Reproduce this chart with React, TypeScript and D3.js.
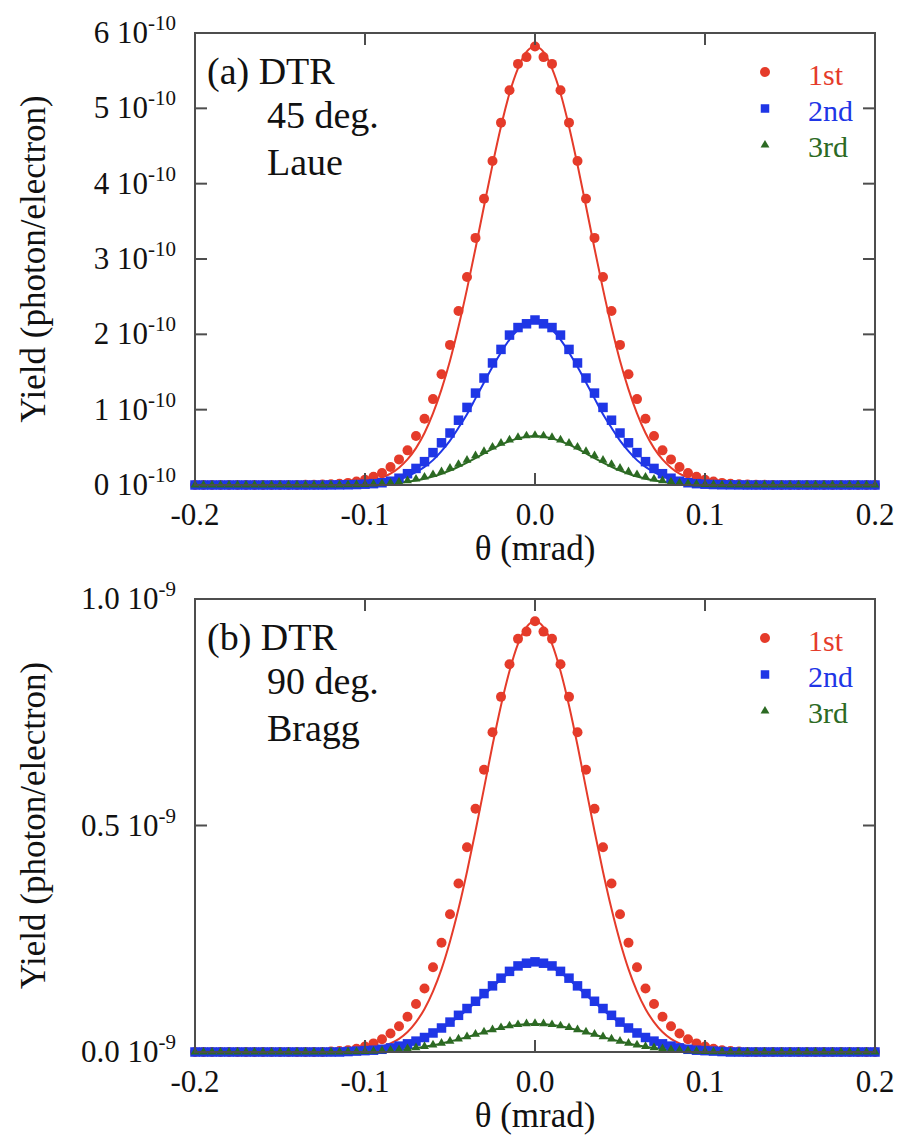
import React from "react";
import * as d3 from "d3";

// Scattering angle grid (mrad)
const THETA = [
  -0.2, -0.195, -0.19, -0.185, -0.18, -0.175, -0.17, -0.165, -0.16, -0.155,
  -0.15, -0.145, -0.14, -0.135, -0.13, -0.125, -0.12, -0.115, -0.11, -0.105,
  -0.1, -0.095, -0.09, -0.085, -0.08, -0.075, -0.07, -0.065, -0.06, -0.055,
  -0.05, -0.045, -0.04, -0.035, -0.03, -0.025, -0.02, -0.015, -0.01, -0.005,
  0,
  0.005, 0.01, 0.015, 0.02, 0.025, 0.03, 0.035, 0.04, 0.045, 0.05,
  0.055, 0.06, 0.065, 0.07, 0.075, 0.08, 0.085, 0.09, 0.095, 0.1,
  0.105, 0.11, 0.115, 0.12, 0.125, 0.13, 0.135, 0.14, 0.145, 0.15,
  0.155, 0.16, 0.165, 0.17, 0.175, 0.18, 0.185, 0.19, 0.195, 0.2,
];

// (a) 45 deg. Laue — yield in units of 1e-10 photon/electron
const LAUE_1ST_PTS = [
  0, 0, 0, 0, 0, 0, 0, 0, 0, 0, 0, 0,
  0.001, 0.002, 0.004, 0.006, 0.01, 0.017, 0.028, 0.045, 0.07, 0.11, 0.16, 0.24, 0.34, 0.46, 0.65, 0.88,
  1.14, 1.47, 1.86, 2.31, 2.76, 3.28, 3.8, 4.3, 4.81, 5.24, 5.59, 5.68,
  5.82,
  5.68, 5.59, 5.24, 4.81, 4.3, 3.8, 3.28, 2.76, 2.31, 1.86, 1.47, 1.14,
  0.88, 0.65, 0.46, 0.34, 0.24, 0.16, 0.11, 0.07, 0.045, 0.028, 0.017, 0.01, 0.006, 0.004, 0.002, 0.001,
  0, 0, 0, 0, 0, 0, 0, 0, 0, 0, 0, 0,
];
const LAUE_1ST_CALC = [
  0, 0, 0, 0, 0, 0, 0, 0, 0, 0, 0, 0, 0, 0,
  0.001, 0.002, 0.004, 0.007, 0.013, 0.022, 0.038, 0.062, 0.098, 0.15, 0.23, 0.34, 0.49,
  0.69, 0.95, 1.27, 1.65, 2.1, 2.6, 3.14, 3.7, 4.25, 4.76, 5.2, 5.53, 5.75,
  5.82,
  5.75, 5.53, 5.2, 4.76, 4.25, 3.7, 3.14, 2.6, 2.1, 1.65, 1.27, 0.95, 0.69,
  0.49, 0.34, 0.23, 0.15, 0.098, 0.062, 0.038, 0.022, 0.013, 0.007, 0.004, 0.002, 0.001,
  0, 0, 0, 0, 0, 0, 0, 0, 0, 0, 0, 0, 0, 0,
];
const LAUE_2ND_PTS = [
  0, 0, 0, 0, 0, 0, 0, 0, 0, 0, 0, 0, 0, 0, 0, 0,
  0.001, 0.002, 0.003, 0.006, 0.011, 0.018, 0.03, 0.05, 0.09, 0.15, 0.22, 0.31,
  0.43, 0.56, 0.69, 0.86, 1.03, 1.22, 1.42, 1.62, 1.8, 1.99, 2.09, 2.14,
  2.19,
  2.14, 2.09, 1.99, 1.8, 1.62, 1.42, 1.22, 1.03, 0.86, 0.69, 0.56, 0.43,
  0.31, 0.22, 0.15, 0.09, 0.05, 0.03, 0.018, 0.011, 0.006, 0.003, 0.002, 0.001,
  0, 0, 0, 0, 0, 0, 0, 0, 0, 0, 0, 0, 0, 0, 0, 0,
];
const LAUE_2ND_CALC = [
  0, 0, 0, 0, 0, 0, 0, 0, 0, 0, 0, 0, 0, 0, 0, 0,
  0.001, 0.002, 0.004, 0.007, 0.012, 0.02, 0.032, 0.051, 0.078, 0.116, 0.17, 0.24,
  0.33, 0.45, 0.59, 0.76, 0.94, 1.15, 1.36, 1.57, 1.76, 1.93, 2.06, 2.14,
  2.17,
  2.14, 2.06, 1.93, 1.76, 1.57, 1.36, 1.15, 0.94, 0.76, 0.59, 0.45, 0.33,
  0.24, 0.17, 0.116, 0.078, 0.051, 0.032, 0.02, 0.012, 0.007, 0.004, 0.002, 0.001,
  0, 0, 0, 0, 0, 0, 0, 0, 0, 0, 0, 0, 0, 0, 0, 0,
];
const LAUE_3RD_PTS = [
  0, 0, 0, 0, 0, 0, 0, 0, 0, 0, 0, 0, 0, 0, 0, 0,
  0.001, 0.002, 0.003, 0.005, 0.009, 0.013, 0.02, 0.029, 0.041, 0.058, 0.079, 0.106,
  0.139, 0.178, 0.224, 0.275, 0.33, 0.389, 0.447, 0.504, 0.555, 0.599, 0.632, 0.653,
  0.66,
  0.653, 0.632, 0.599, 0.555, 0.504, 0.447, 0.389, 0.33, 0.275, 0.224, 0.178, 0.139,
  0.106, 0.079, 0.058, 0.041, 0.029, 0.02, 0.013, 0.009, 0.005, 0.003, 0.002, 0.001,
  0, 0, 0, 0, 0, 0, 0, 0, 0, 0, 0, 0, 0, 0, 0, 0,
];
const LAUE_3RD_CALC = [
  0, 0, 0, 0, 0, 0, 0, 0, 0, 0, 0, 0, 0, 0, 0, 0, 0,
  0.001, 0.002, 0.003, 0.005, 0.008, 0.012, 0.019, 0.029, 0.042, 0.059, 0.083,
  0.112, 0.148, 0.192, 0.242, 0.298, 0.357, 0.419, 0.479, 0.535, 0.582, 0.619, 0.642,
  0.65,
  0.642, 0.619, 0.582, 0.535, 0.479, 0.419, 0.357, 0.298, 0.242, 0.192, 0.148, 0.112,
  0.083, 0.059, 0.042, 0.029, 0.019, 0.012, 0.008, 0.005, 0.003, 0.002, 0.001,
  0, 0, 0, 0, 0, 0, 0, 0, 0, 0, 0, 0, 0, 0, 0, 0, 0,
];

// (b) 90 deg. Bragg — yield in units of 1e-9 photon/electron
const BRAGG_1ST_PTS = [
  0, 0, 0, 0, 0, 0, 0, 0, 0, 0, 0, 0, 0, 0, 0, 0,
  0.001, 0.002, 0.004, 0.007, 0.012, 0.019, 0.028, 0.041, 0.057, 0.078, 0.106, 0.14,
  0.187, 0.241, 0.304, 0.372, 0.452, 0.537, 0.623, 0.706, 0.784, 0.856, 0.912, 0.928,
  0.951,
  0.928, 0.912, 0.856, 0.784, 0.706, 0.623, 0.537, 0.452, 0.372, 0.304, 0.241, 0.187,
  0.14, 0.106, 0.078, 0.057, 0.041, 0.028, 0.019, 0.012, 0.007, 0.004, 0.002, 0.001,
  0, 0, 0, 0, 0, 0, 0, 0, 0, 0, 0, 0, 0, 0, 0, 0,
];
const BRAGG_1ST_CALC = [
  0, 0, 0, 0, 0, 0, 0, 0, 0, 0, 0, 0, 0, 0, 0, 0, 0, 0,
  0.001, 0.002, 0.004, 0.007, 0.012, 0.019, 0.029, 0.044, 0.066, 0.095,
  0.134, 0.183, 0.244, 0.316, 0.398, 0.488, 0.582, 0.677, 0.765, 0.841, 0.901, 0.938,
  0.951,
  0.938, 0.901, 0.841, 0.765, 0.677, 0.582, 0.488, 0.398, 0.316, 0.244, 0.183, 0.134,
  0.095, 0.066, 0.044, 0.029, 0.019, 0.012, 0.007, 0.004, 0.002, 0.001,
  0, 0, 0, 0, 0, 0, 0, 0, 0, 0, 0, 0, 0, 0, 0, 0, 0, 0,
];
const BRAGG_2ND_PTS = [
  0, 0, 0, 0, 0, 0, 0, 0, 0, 0, 0, 0, 0, 0, 0, 0, 0, 0,
  0.001, 0.002, 0.003, 0.004, 0.006, 0.009, 0.013, 0.018, 0.024, 0.032,
  0.042, 0.053, 0.066, 0.081, 0.096, 0.112, 0.129, 0.146, 0.163, 0.178, 0.19, 0.196,
  0.199,
  0.196, 0.19, 0.178, 0.163, 0.146, 0.129, 0.112, 0.096, 0.081, 0.066, 0.053, 0.042,
  0.032, 0.024, 0.018, 0.013, 0.009, 0.006, 0.004, 0.003, 0.002, 0.001,
  0, 0, 0, 0, 0, 0, 0, 0, 0, 0, 0, 0, 0, 0, 0, 0, 0, 0,
];
const BRAGG_2ND_CALC = [
  0, 0, 0, 0, 0, 0, 0, 0, 0, 0, 0, 0, 0, 0, 0, 0, 0, 0, 0,
  0.001, 0.002, 0.003, 0.005, 0.008, 0.012, 0.017, 0.023, 0.031,
  0.04, 0.051, 0.064, 0.078, 0.093, 0.109, 0.126, 0.143, 0.16, 0.175, 0.187, 0.194,
  0.197,
  0.194, 0.187, 0.175, 0.16, 0.143, 0.126, 0.109, 0.093, 0.078, 0.064, 0.051, 0.04,
  0.031, 0.023, 0.017, 0.012, 0.008, 0.005, 0.003, 0.002, 0.001,
  0, 0, 0, 0, 0, 0, 0, 0, 0, 0, 0, 0, 0, 0, 0, 0, 0, 0, 0,
];
const BRAGG_3RD_PTS = [
  0, 0, 0, 0, 0, 0, 0, 0, 0, 0, 0, 0, 0, 0, 0, 0,
  0.0002, 0.0004, 0.0006, 0.0009, 0.0013, 0.0019, 0.0028, 0.0039, 0.0053, 0.0072, 0.0095, 0.0123,
  0.0157, 0.0196, 0.024, 0.0288, 0.034, 0.0393, 0.0445, 0.0495, 0.054, 0.0578, 0.0606, 0.0624,
  0.063,
  0.0624, 0.0606, 0.0578, 0.054, 0.0495, 0.0445, 0.0393, 0.034, 0.0288, 0.024, 0.0196, 0.0157,
  0.0123, 0.0095, 0.0072, 0.0053, 0.0039, 0.0028, 0.0019, 0.0013, 0.0009, 0.0006, 0.0004, 0.0002,
  0, 0, 0, 0, 0, 0, 0, 0, 0, 0, 0, 0, 0, 0, 0, 0,
];
const BRAGG_3RD_CALC = [
  0, 0, 0, 0, 0, 0, 0, 0, 0, 0, 0, 0, 0, 0, 0, 0,
  0.0001, 0.0002, 0.0004, 0.0007, 0.0011, 0.0017, 0.0025, 0.0035, 0.0049, 0.0067, 0.0089, 0.0117,
  0.015, 0.0188, 0.0231, 0.0278, 0.0329, 0.0382, 0.0434, 0.0484, 0.0529, 0.0567, 0.0596, 0.0614,
  0.062,
  0.0614, 0.0596, 0.0567, 0.0529, 0.0484, 0.0434, 0.0382, 0.0329, 0.0278, 0.0231, 0.0188, 0.015,
  0.0117, 0.0089, 0.0067, 0.0049, 0.0035, 0.0025, 0.0017, 0.0011, 0.0007, 0.0004, 0.0002, 0.0001,
  0, 0, 0, 0, 0, 0, 0, 0, 0, 0, 0, 0, 0, 0, 0, 0,
];

// Axis ticks
const X_TICKS = [-0.2, -0.1, 0, 0.1, 0.2];
const X_TICK_LABELS = ["-0.2", "-0.1", "0.0", "0.1", "0.2"];
const Y_TICKS_A = [0, 1, 2, 3, 4, 5, 6];
const Y_TICK_LABELS_A = ["0", "1", "2", "3", "4", "5", "6"];
const Y_TICKS_B = [0, 0.5, 1.0];
const Y_TICK_LABELS_B = ["0.0", "0.5", "1.0"];

const ORDERS = ["1st", "2nd", "3rd"];

const FONT = '"Liberation Serif", "Times New Roman", Times, serif';
const RED = "#e53b2a";
const BLUE = "#1f36e6";
const GREEN = "#2c6a23";
const FRAME = "#4d4d4d";
const INK = "#111";

const LEFT = 195;
const RIGHT = 875;
const TICK_LEN = 12;

const xScale = d3.scaleLinear().domain([-0.2, 0.2]).range([LEFT, RIGHT]);

type Series = { pts: number[]; calc: number[]; color: string; marker: "circle" | "square" | "triangle" };

const triPath = d3.symbol().type(d3.symbolTriangle).size(34)() as string;
const triLegendPath = d3.symbol().type(d3.symbolTriangle).size(34)() as string;

function Marker({ kind, x, y, color, legend }: { kind: string; x: number; y: number; color: string; legend?: boolean }) {
  if (kind === "circle") return <circle cx={x} cy={y} r={5} fill={color} />;
  if (kind === "square") {
    const s = legend ? 8.5 : 9.5;
    return <rect x={x - s / 2} y={y - s / 2} width={s} height={s} fill={color} />;
  }
  return <path d={legend ? triLegendPath : triPath} transform={`translate(${x},${y})`} fill={color} />;
}

function Panel(props: {
  top: number;
  bottom: number;
  yMax: number;
  yTicks: number[];
  yTickLabels: string[];
  exponent: string;
  annot: string[];
  series: Series[];
}) {
  const { top, bottom, yMax, yTicks, yTickLabels, exponent, annot, series } = props;
  const y = d3.scaleLinear().domain([0, yMax]).range([bottom, top]);
  const line = d3
    .line<number>()
    .x((_, i) => xScale(THETA[i]))
    .y((v) => y(v))
    .curve(d3.curveMonotoneX);
  const mid = (top + bottom) / 2;
  const xMid = xScale(0);

  return (
    <g>
      {/* calculated curves */}
      {series.map((s, si) => (
        <path key={`c${si}`} d={line(s.calc) as string} fill="none" stroke={s.color} strokeWidth={2} />
      ))}
      {/* measured points */}
      {series.map((s, si) => (
        <g key={`p${si}`}>
          {s.pts.map((v, i) => (
            <Marker key={i} kind={s.marker} x={xScale(THETA[i])} y={y(v)} color={s.color} />
          ))}
        </g>
      ))}

      {/* frame */}
      <rect x={LEFT} y={top} width={RIGHT - LEFT} height={bottom - top} fill="none" stroke={FRAME} strokeWidth={2} />
      {/* inward ticks */}
      {X_TICKS.slice(1, -1).map((t) => (
        <g key={`xt${t}`} stroke={FRAME} strokeWidth={2}>
          <line x1={xScale(t)} x2={xScale(t)} y1={bottom} y2={bottom - TICK_LEN} />
          <line x1={xScale(t)} x2={xScale(t)} y1={top} y2={top + TICK_LEN} />
        </g>
      ))}
      {yTicks.slice(1, -1).map((t) => (
        <g key={`yt${t}`} stroke={FRAME} strokeWidth={2}>
          <line x1={LEFT} x2={LEFT + TICK_LEN} y1={y(t)} y2={y(t)} />
          <line x1={RIGHT} x2={RIGHT - TICK_LEN} y1={y(t)} y2={y(t)} />
        </g>
      ))}

      {/* tick labels */}
      {X_TICKS.map((t, i) => (
        <text key={`xl${t}`} x={xScale(t)} y={bottom + 40} textAnchor="middle" fontSize={31} fill={INK}>
          {X_TICK_LABELS[i]}
        </text>
      ))}
      {yTicks.map((t, i) => (
        <text key={`yl${t}`} x={176} y={y(t) + 10} textAnchor="end" fontSize={31} fill={INK}>
          {yTickLabels[i]} 10
          <tspan fontSize={21} dy={-13}>
            {exponent}
          </tspan>
        </text>
      ))}

      {/* axis titles */}
      <text x={xMid} y={bottom + 75} textAnchor="middle" fontSize={35} fill={INK}>
        θ (mrad)
      </text>
      <text transform={`translate(45,${mid}) rotate(-90)`} textAnchor="middle" fontSize={35} fill={INK}>
        Yield (photon/electron)
      </text>

      {/* panel annotation */}
      <text x={207} y={top + 51} fontSize={38} fill={INK}>
        {annot[0]}
      </text>
      <text x={267} y={top + 95} fontSize={38} fill={INK}>
        {annot[1]}
      </text>
      <text x={267} y={top + 142} fontSize={38} fill={INK}>
        {annot[2]}
      </text>

      {/* legend */}
      {series.map((s, si) => (
        <g key={`lg${si}`}>
          <Marker kind={s.marker} x={765} y={top + 39 + si * 36.5} color={s.color} legend />
          <text x={808} y={top + 52 + si * 36} fontSize={30} fill={s.color}>
            {ORDERS[si]}
          </text>
        </g>
      ))}
    </g>
  );
}

export default function App() {
  const laue: Series[] = [
    { pts: LAUE_1ST_PTS, calc: LAUE_1ST_CALC, color: RED, marker: "circle" },
    { pts: LAUE_2ND_PTS, calc: LAUE_2ND_CALC, color: BLUE, marker: "square" },
    { pts: LAUE_3RD_PTS, calc: LAUE_3RD_CALC, color: GREEN, marker: "triangle" },
  ];
  const bragg: Series[] = [
    { pts: BRAGG_1ST_PTS, calc: BRAGG_1ST_CALC, color: RED, marker: "circle" },
    { pts: BRAGG_2ND_PTS, calc: BRAGG_2ND_CALC, color: BLUE, marker: "square" },
    { pts: BRAGG_3RD_PTS, calc: BRAGG_3RD_CALC, color: GREEN, marker: "triangle" },
  ];
  return (
    <svg
      width={899}
      height={1135}
      viewBox="0 0 899 1135"
      style={{ position: "absolute", left: 0, top: 0, background: "#fff", fontFamily: FONT }}
    >
      <rect width={899} height={1135} fill="#fff" />
      <Panel
        top={33}
        bottom={485}
        yMax={6}
        yTicks={Y_TICKS_A}
        yTickLabels={Y_TICK_LABELS_A}
        exponent="-10"
        annot={["(a) DTR", "45 deg.", "Laue"]}
        series={laue}
      />
      <Panel
        top={599}
        bottom={1052}
        yMax={1}
        yTicks={Y_TICKS_B}
        yTickLabels={Y_TICK_LABELS_B}
        exponent="-9"
        annot={["(b) DTR", "90 deg.", "Bragg"]}
        series={bragg}
      />
    </svg>
  );
}
